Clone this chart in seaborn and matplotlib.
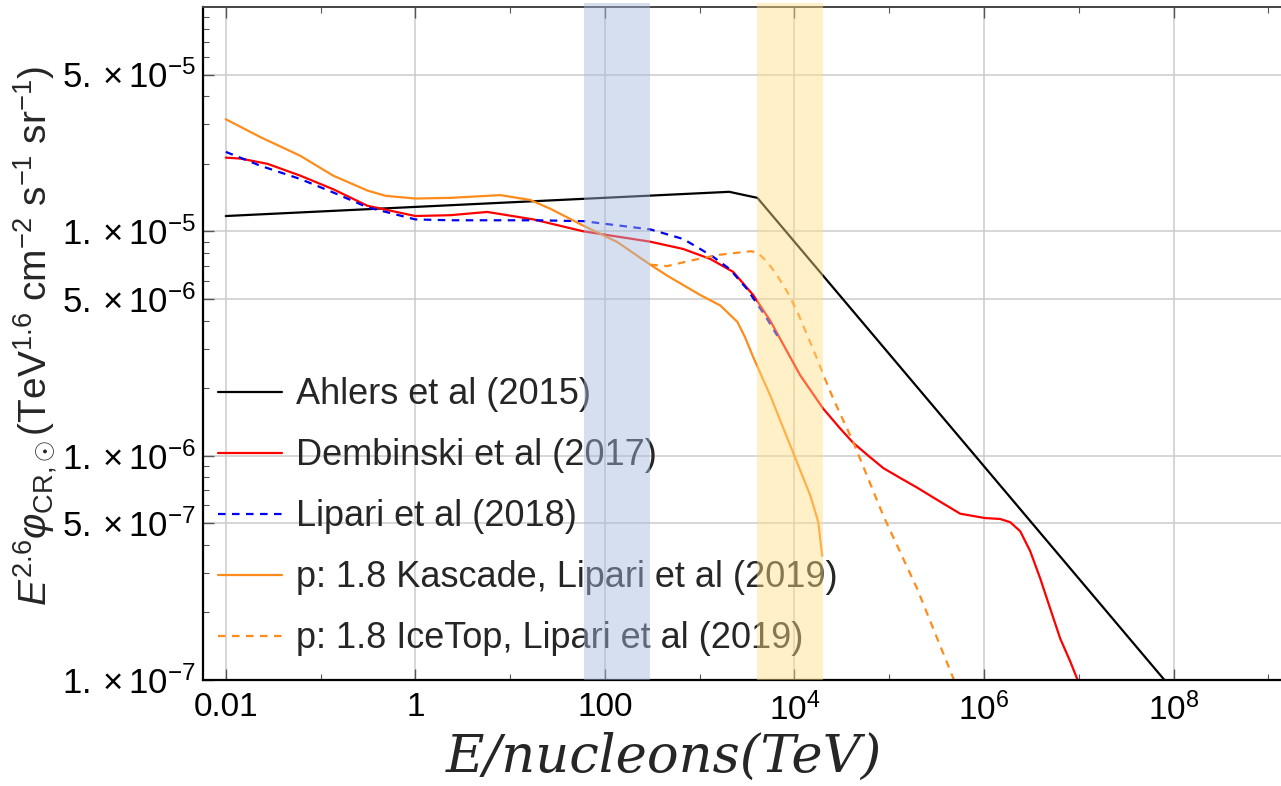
import matplotlib
matplotlib.use("Agg")
import matplotlib.pyplot as plt
import seaborn as sns
from matplotlib.ticker import FixedLocator, FixedFormatter, NullFormatter

sns.set_theme(style="white")
plt.rcParams["font.family"] = ["Liberation Sans", "DejaVu Sans"]
plt.rcParams["mathtext.fontset"] = "custom"
plt.rcParams["mathtext.rm"] = "Liberation Sans"
plt.rcParams["mathtext.it"] = "Liberation Sans:italic"
plt.rcParams["mathtext.bf"] = "Liberation Sans:bold"

# ---- cosmic-ray flux models: E/nucleon (TeV) and E^2.6 * flux ----
ahlers_E = [0.01, 2050, 4060, 8.0e7]
ahlers_F = [1.17e-5, 1.50e-5, 1.41e-5, 1.0e-7]

dembinski_E = [0.01, 0.0143, 0.0275, 0.0612, 0.136, 0.312, 1.0, 2.34, 5.74, 17.6,
               59.2, 301, 671, 1294, 2260, 3670, 5560, 7080, 1.15e4, 2.01e4,
               3.04e4, 4.17e4, 6.0e4, 8.65e4, 1.3e5, 1.97e5, 3.45e5, 5.61e5, 1.02e6, 1.48e6,
               1.89e6, 2.41e6, 3.07e6, 3.92e6, 4.99e6, 6.36e6, 8.11e6, 9.62e6, 1.17e7]
dembinski_F = [2.13e-5, 2.11e-5, 2.0e-5, 1.77e-5, 1.54e-5, 1.30e-5, 1.17e-5, 1.18e-5, 1.22e-5, 1.13e-5,
               1.00e-5, 8.99e-6, 8.34e-6, 7.53e-6, 6.59e-6, 5.2e-6, 3.99e-6, 3.31e-6, 2.28e-6, 1.62e-6,
               1.32e-6, 1.14e-6, 1.0e-6, 8.8e-7, 7.96e-7, 7.2e-7, 6.23e-7, 5.51e-7, 5.27e-7, 5.22e-7,
               5.05e-7, 4.6e-7, 3.75e-7, 2.83e-7, 2.08e-7, 1.53e-7, 1.21e-7, 1.01e-7, 8.3e-8]

lipari18_E = [0.01, 0.0232, 0.0612, 0.136, 0.312, 1.0, 2.34, 18.4, 59.2, 301,
              671, 1014, 1390, 2070, 3160, 5000, 6590]
lipari18_F = [2.26e-5, 1.96e-5, 1.71e-5, 1.49e-5, 1.28e-5, 1.13e-5, 1.12e-5, 1.12e-5, 1.11e-5, 1.02e-5,
              9.24e-6, 8.34e-6, 7.69e-6, 6.79e-6, 5.53e-6, 4.15e-6, 3.42e-6]

kascade_E = [0.01, 0.0232, 0.0612, 0.136, 0.312, 0.483, 1.0, 2.34, 7.88, 16.3, 26.6, 59.2,
             135, 301, 455, 1014, 1650, 2494, 3000, 3670, 5560, 9030, 1.47e4, 1.78e4, 1.96e4]
kascade_F = [3.16e-5, 2.63e-5, 2.17e-5, 1.77e-5, 1.52e-5, 1.44e-5, 1.40e-5, 1.41e-5, 1.45e-5, 1.38e-5,
             1.26e-5, 1.06e-5, 8.96e-6, 7.1e-6, 6.34e-6, 5.2e-6, 4.67e-6, 3.95e-6, 3.38e-6, 2.75e-6,
             1.85e-6, 1.11e-6, 6.63e-7, 5.08e-7, 3.58e-7]

icetop_E = [301, 455, 796, 1535, 3420, 4055, 5160, 6590, 8400, 1.07e4,
            1.37e4, 1.74e4, 2.11e4, 2.57e4, 4.17e4, 8.65e4, 1.97e5, 4.73e5, 6.3e5]
icetop_F = [7.1e-6, 7.0e-6, 7.40e-6, 7.84e-6, 8.15e-6, 8.06e-6, 7.30e-6, 6.34e-6, 5.37e-6, 4.38e-6,
            3.43e-6, 2.69e-6, 2.19e-6, 1.79e-6, 1.15e-6, 5.40e-7, 2.55e-7, 1.02e-7, 7.5e-8]

series_labels = ["Ahlers et al (2015)", "Dembinski et al (2017)", "Lipari et al (2018)",
                 "p: 1.8 Kascade, Lipari et al (2019)", "p: 1.8 IceTop, Lipari et al (2019)"]

# highlighted energy windows (TeV)
band_ranges = [(60, 300), (4000, 2.0e4)]
band_colors = ["#A4BADE", "#FFDE85"]

x_ticks = [1e-2, 1, 1e2, 1e4, 1e6, 1e8]
x_ticklabels = ["0.01", "1", "100", r"$10^{4}$", r"$10^{6}$", r"$10^{8}$"]
x_minor = [1e-1, 1e1, 1e3, 1e5, 1e7, 1e9]
y_ticks = [1e-7, 5e-7, 1e-6, 5e-6, 1e-5, 5e-5]
y_ticklabels = [r"$1.\times10^{-7}$", r"$5.\times10^{-7}$", r"$1.\times10^{-6}$",
                r"$5.\times10^{-6}$", r"$1.\times10^{-5}$", r"$5.\times10^{-5}$"]
y_minor = [m * 10.0**d for d in (-7, -6, -5) for m in (2, 3, 4, 6, 7, 8, 9)]

# ---- figure ----
fig = plt.figure(figsize=(12.81, 7.86), dpi=100)
ax = fig.add_axes([0.1585, 0.1349, 0.8435, 0.8562])
ax.set_xscale("log")
ax.set_yscale("log")

dash = (0, (3.4, 2.9))
specs = [
    (ahlers_E, ahlers_F, "black", None),
    (dembinski_E, dembinski_F, "#FF0000", None),
    (lipari18_E, lipari18_F, "#0000F0", dash),
    (kascade_E, kascade_F, "#FF8C1A", None),
    (icetop_E, icetop_F, "#FF8C1A", dash),
]
for (E, F, c, ls), lab in zip(specs, series_labels):
    kw = {"linestyle": ls} if ls else {}
    sns.lineplot(x=E, y=F, ax=ax, color=c, linewidth=1.6, label=lab,
                 sort=False, estimator=None, **kw)

ax.set_xlim(10**-2.24, 10**9.16)
ax.set_ylim(1e-7, 1e-4)

ax.xaxis.set_major_locator(FixedLocator(x_ticks))
ax.xaxis.set_major_formatter(FixedFormatter(x_ticklabels))
ax.xaxis.set_minor_locator(FixedLocator(x_minor))
ax.xaxis.set_minor_formatter(NullFormatter())
ax.yaxis.set_major_locator(FixedLocator(y_ticks))
ax.yaxis.set_major_formatter(FixedFormatter(y_ticklabels))
ax.yaxis.set_minor_locator(FixedLocator(y_minor))
ax.yaxis.set_minor_formatter(NullFormatter())

ax.tick_params(axis="x", which="both", direction="in", top=True, bottom=True,
               labelsize=24, pad=9, color="#555555", labelcolor="black")
ax.tick_params(axis="y", which="both", direction="in", left=True, right=False,
               labelsize=25, pad=5, color="#555555", labelcolor="black")
ax.tick_params(which="major", length=8, width=1.0)
ax.tick_params(which="minor", length=4, width=0.8)

ax.set_axisbelow(True)
ax.grid(True, which="major", color="#CBCBCB", linewidth=1.1)

for side in ("left", "bottom"):
    ax.spines[side].set_color("black")
    ax.spines[side].set_linewidth(1.6)
ax.spines["top"].set_color("#444444")
ax.spines["top"].set_linewidth(1.4)
ax.spines["right"].set_visible(False)

ax.set_xlabel("")
ax.set_ylabel("")

handles, labels = ax.get_legend_handles_labels()
ax.legend(handles, labels, loc="lower left", bbox_to_anchor=(0.0139, 0.035),
          frameon=False, fontsize=26, handlelength=1.78, handletextpad=0.39,
          labelspacing=0.72, borderpad=0, borderaxespad=0)

# translucent windows drawn over curves and legend
for (lo, hi), c in zip(band_ranges, band_colors):
    ax.axvspan(lo, hi, ymin=0, ymax=1.006, color=c, alpha=0.45, lw=0,
               zorder=10, clip_on=False)

fig.text(35 / 1281, 1 - 336 / 786,
         r"$E^{2.6}\varphi_{\mathrm{CR{,}\odot}}$(TeV$^{1.6}$ cm$^{-2}$ s$^{-1}$ sr$^{-1}$)",
         rotation=90, ha="center", va="center", fontsize=28)
fig.text(664 / 1281, 1 - 757 / 786, "E/nucleons(TeV)", ha="center", va="center",
         fontsize=38, family="DejaVu Serif", style="italic")

fig.savefig("out.png", dpi=100)
